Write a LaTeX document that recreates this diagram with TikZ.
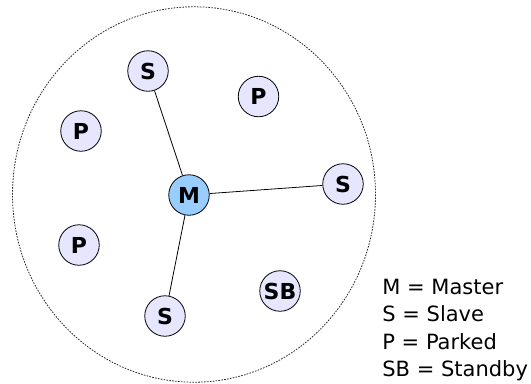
\documentclass[tikz,border=0pt]{standalone}
\usepackage{fontspec}
\setmainfont{DejaVu Sans}
\usetikzlibrary{positioning}
\definecolor{devfill}{RGB}{230,230,255}
\definecolor{masterfill}{RGB}{153,204,255}

\begin{document}
\begin{tikzpicture}[x=1bp,y=-1bp,line width=0.8bp,
  dev/.style={circle,draw,fill=devfill,minimum size=40.5bp,inner sep=0pt,font=\fontsize{22bp}{26bp}\selectfont\bfseries},
  master/.style={dev,fill=masterfill},
  legend/.style={font=\fontsize{21bp}{26bp}\selectfont,inner sep=0pt,anchor=base west}]

  \useasboundingbox (0,0) rectangle (531,383);

  % piconet range
  \draw[dash pattern=on 1.6bp off 1.3bp,line width=0.8bp,black!85] (194,194.5) ellipse [x radius=181.5,y radius=187.7];

  \node[master] (m) at (189,195) {M};
  \node[dev] (s1) at (148,71) {S};
  \node[dev] (s2) at (343,184) {S};
  \node[dev] (s3) at (165,316) {S};
  \node[dev] (p1) at (258.5,96.5) {P};
  \node[dev] (p2) at (81,131) {P};
  \node[dev] (p3) at (79,245) {P};
  \node[dev] (sb) at (280,291) {SB};

  \draw (m) -- (s1);
  \draw (m) -- (s2);
  \draw (m) -- (s3);

  % legend
  \node[legend] (legm) at (382,294.3) {M = Master};
  \node[legend] (legs) [below=27.5bp of legm.base west,anchor=base west] {S = Slave};
  \node[legend] (legp) [below=27.5bp of legs.base west,anchor=base west] {P = Parked};
  \node[legend] (legsb) [below=27.5bp of legp.base west,anchor=base west] {SB = Standby};

\end{tikzpicture}
\end{document}
